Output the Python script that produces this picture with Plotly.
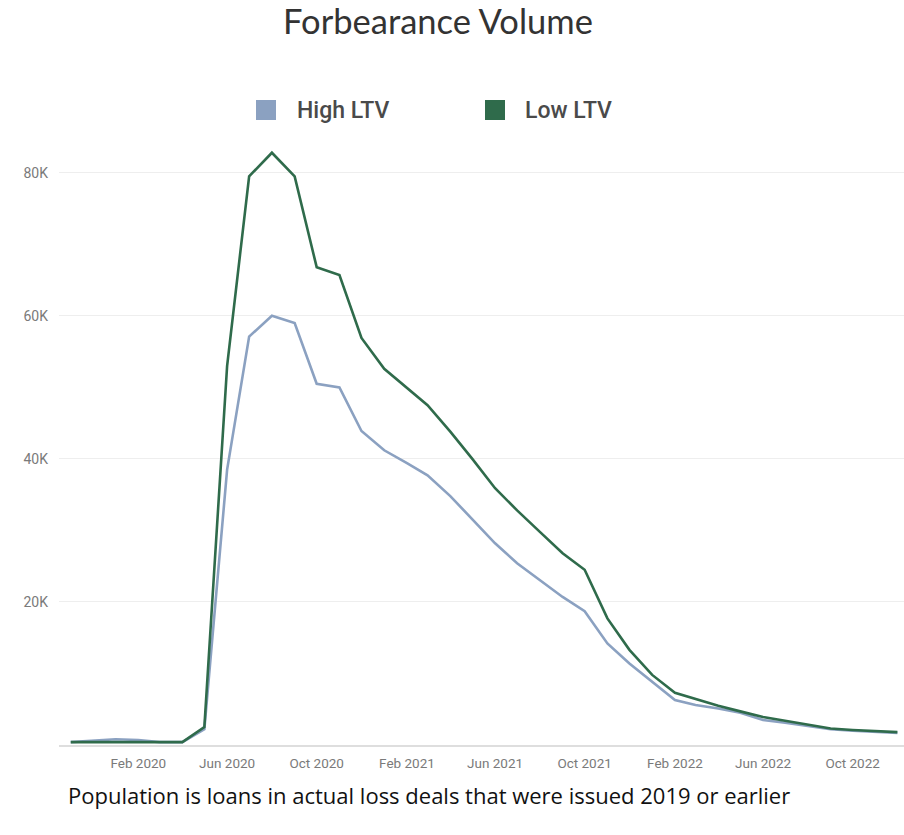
import plotly.graph_objects as go
import pandas as pd

months = pd.date_range("2019-11-01", "2022-12-01", freq="MS")

high_ltv = [0.4, 0.6, 0.8, 0.7, 0.4, 0.4, 2.2, 38.5, 57.1, 60.0, 59.0, 50.5, 50.0, 43.9,
            41.2, 39.4, 37.7, 34.8, 31.5, 28.2, 25.4, 23.0, 20.7, 18.7, 14.2, 11.4,
            8.9, 6.3, 5.6, 5.1, 4.5, 3.5, 3.1, 2.6, 2.2, 2.0, 1.9, 1.7]
low_ltv = [0.4, 0.4, 0.5, 0.5, 0.4, 0.4, 2.5, 53.0, 79.5, 82.8, 79.5, 66.8, 65.7, 56.9,
           52.6, 49.9, 47.5, 43.8, 40.0, 35.9, 32.8, 29.8, 26.8, 24.5, 17.7, 13.3,
           9.8, 7.3, 6.4, 5.5, 4.7, 3.9, 3.4, 2.8, 2.3, 2.1, 2.0, 1.8]
high_ltv = [v * 1000 for v in high_ltv]
low_ltv = [v * 1000 for v in low_ltv]

series_names = ["High LTV", "Low LTV"]
series_colors = ["#8ba1c1", "#2f6b4b"]
y_tick_vals = [20000, 40000, 60000, 80000]
y_tick_text = ["20K", "40K", "60K", "80K"]

title_text = "Forbearance Volume"
caption_text = "Population is loans in actual loss deals that were issued 2019 or earlier"

W, H = 904, 835
L, R, T, B = 59, 0, 137, 90
PW, PH = W - L - R, H - T - B


def px(x):
    return (x - L) / PW


def py(y):
    return (H - B - y) / PH


narrow = "Roboto, sans-serif"

fig = go.Figure()
for name, vals, col in zip(series_names, [high_ltv, low_ltv], series_colors):
    fig.add_trace(go.Scatter(x=months, y=vals, mode="lines", name=name,
                             line=dict(color=col, width=2.6), showlegend=False))

fig.update_layout(
    width=W, height=H,
    margin=dict(l=L, r=R, t=T, b=B),
    paper_bgcolor="white", plot_bgcolor="white",
    title=dict(text=title_text, x=438 / W, xanchor="center", xref="container",
               y=1 - 22 / H, yanchor="middle", yref="container",
               font=dict(family="Lato, Open Sans, sans-serif", size=34.5, color="#333333")),
    xaxis=dict(range=["2019-10-16", "2022-12-10"], tick0="2020-02-01", dtick="M4",
               tickformat="%b %Y", showgrid=False, showline=True, linecolor="#dedede",
               linewidth=2, ticks="", zeroline=False, ticklabelstandoff=5,
               tickfont=dict(family=narrow, size=13.5, color="#7a7a7a")),
    yaxis=dict(range=[0, 85000], tickvals=y_tick_vals, ticktext=y_tick_text,
               showgrid=True, gridcolor="#eeeeee", gridwidth=1, zeroline=False,
               showline=False, ticks="", ticklabelstandoff=10,
               tickfont=dict(family=narrow, size=14, color="#7a7a7a")),
)

# legend drawn as shapes + text
legend_items = [(256, 295), (485, 523)]
for (sx, tx), name, col in zip(legend_items, series_names, series_colors):
    fig.add_shape(type="rect", xref="paper", yref="paper",
                  x0=px(sx), x1=px(sx + 20), y0=py(120), y1=py(100),
                  fillcolor=col, line=dict(width=0))
    fig.add_annotation(text=name, xref="paper", yref="paper", x=px(tx), y=py(110),
                       xanchor="left", yanchor="middle", showarrow=False,
                       font=dict(family=narrow, size=23, color="#4a4a4a", weight=500))

fig.add_annotation(text=caption_text, xref="paper", yref="paper", x=px(66), y=py(795),
                   xanchor="left", yanchor="middle", showarrow=False,
                   font=dict(family="Open Sans, Lato, sans-serif", size=22, color="#111111"))

fig.write_html("out.html")
